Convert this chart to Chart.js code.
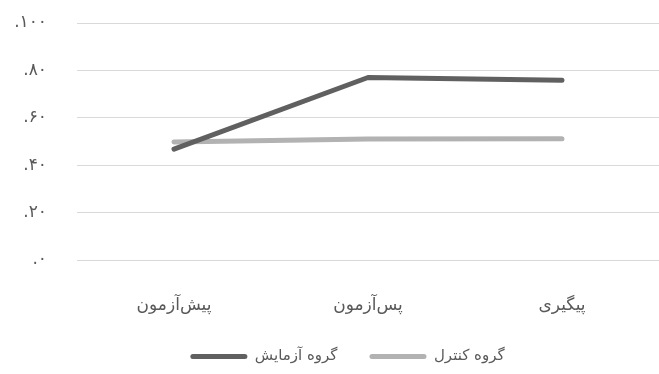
<!DOCTYPE html>
<html lang="fa">
<head>
<meta charset="UTF-8">
<title>گروه آزمایش و کنترل</title>
<script src="https://cdn.jsdelivr.net/npm/chart.js@4.4.1/dist/chart.umd.min.js"></script>
<style>
  html, body { margin: 0; padding: 0; background: #fff; }
  #wrap { width: 659px; height: 374px; }
</style>
</head>
<body>
<div id="wrap"><canvas id="chart"></canvas></div>
<script>
const categories = ['پیش\u200cآزمون', 'پس\u200cآزمون', 'پیگیری'];
const experimentGroup = [46.8, 77.0, 75.8];
const controlGroup = [49.8, 51.1, 51.2];
const seriesNames = ['گروه آزمایش', 'گروه کنترل'];
const yTickLabels = ['.۰', '.۲۰', '.۴۰', '.۶۰', '.۸۰', '.۱۰۰'];

const darkGrey = '#606060';
const lightGrey = '#b2b2b2';
const textGrey = '#595959';
const fontFamily = '"DejaVu Sans", sans-serif';

// legend sits a little right of the canvas centre in the original
const legendShift = {
  id: 'legendShift',
  afterLayout(chart) {
    chart.legend.left += 36;
  }
};

const ctx = document.getElementById('chart').getContext('2d');

new Chart(ctx, {
  type: 'line',
  data: {
    labels: categories,
    datasets: [
      {
        label: seriesNames[0],
        data: experimentGroup,
        borderColor: darkGrey,
        backgroundColor: darkGrey,
        borderWidth: 5,
        borderCapStyle: 'round',
        borderJoinStyle: 'round',
        pointRadius: 0,
        fill: false,
        tension: 0
      },
      {
        label: seriesNames[1],
        data: controlGroup,
        borderColor: lightGrey,
        backgroundColor: lightGrey,
        borderWidth: 5,
        borderCapStyle: 'round',
        borderJoinStyle: 'round',
        pointRadius: 0,
        fill: false,
        tension: 0
      }
    ]
  },
  plugins: [legendShift],
  options: {
    responsive: true,
    maintainAspectRatio: false,
    animation: false,
    layout: { padding: { top: 23, right: 0, left: 0, bottom: 0 } },
    plugins: {
      tooltip: { enabled: false },
      legend: {
        position: 'bottom',
        labels: {
          color: textGrey,
          font: { family: fontFamily, size: 15 },
          boxWidth: 57,
          boxHeight: 5,
          useBorderRadius: true,
          borderRadius: 2.5,
          padding: 32,
          generateLabels: (chart) => chart.data.datasets.map((ds, i) => ({
            text: ds.label,
            fillStyle: ds.borderColor,
            strokeStyle: ds.borderColor,
            lineWidth: 0,
            fontColor: textGrey,
            borderRadius: 2.5,
            datasetIndex: i
          }))
        }
      }
    },
    scales: {
      x: {
        offset: true,
        grid: { display: false },
        border: { display: false },
        ticks: {
          color: textGrey,
          font: { family: fontFamily, size: 17 },
          padding: 27,
          maxRotation: 0,
          autoSkip: false
        },
        afterFit: (scale) => { scale.height = 57; }
      },
      y: {
        min: 0,
        max: 100,
        grid: { color: '#d9d9d9', lineWidth: 1, drawTicks: false },
        border: { display: false },
        ticks: {
          stepSize: 20,
          color: textGrey,
          font: { family: fontFamily, size: 17 },
          padding: 30,
          callback: (value, index) => yTickLabels[index]
        },
        afterFit: (scale) => {
          scale.width = 77;
          scale.paddingTop = 0;
          scale.paddingBottom = 0;
        }
      }
    }
  }
});
</script>
</body>
</html>
